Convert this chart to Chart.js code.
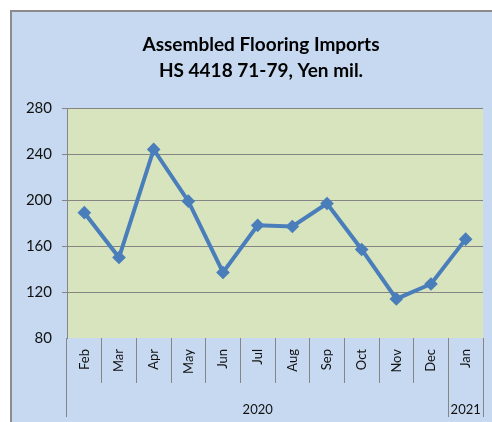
<!DOCTYPE html>
<html>
<head>
<meta charset="utf-8">
<script src="https://cdn.jsdelivr.net/npm/chart.js@4"></script>
<style>
  html, body { margin: 0; padding: 0; background: #fff; overflow: hidden; }
  #box { position: absolute; left: 10px; top: 10px; width: 480px; height: 410px;
         border-left: 2px solid #8c8c8c; border-top: 2px solid #8c8c8c; background: #c6d9f0; }
</style>
</head>
<body>
<div id="box"><canvas id="flooring" width="480" height="410"></canvas></div>
<script>
const months = ['Feb', 'Mar', 'Apr', 'May', 'Jun', 'Jul', 'Aug', 'Sep', 'Oct', 'Nov', 'Dec', 'Jan'];
const years = ['', '', '', '', '', '2020', '', '', '', '', '', '2021'];
const imports = [189, 150, 244, 199, 137, 178, 177, 197, 157, 114, 127, 166];
const titleLines = ['Assembled Flooring Imports', 'HS 4418 71-79, Yen mil.'];

const gray = '#858585';
const none = 'rgba(0,0,0,0)';

Chart.defaults.font.family = 'Lato';
Chart.defaults.color = '#111';

// green plot area
const plotBg = {
    id: 'plotBg',
    beforeDraw(chart) {
        const a = chart.chartArea;
        const ctx = chart.ctx;
        ctx.save();
        ctx.fillStyle = '#d7e4bd';
        ctx.fillRect(a.left, a.top, a.right - a.left, a.bottom - a.top);
        ctx.restore();
    }
};

// the y axis is narrow (title is centred on the whole original chart), let its labels use the left padding
const widenY = {
    id: 'widenY',
    afterLayout(chart) {
        chart.scales.y.left = 0;
    }
};

const ctx = document.getElementById('flooring').getContext('2d');
const chart = new Chart(ctx, {
    type: 'line',
    data: {
        labels: months,
        datasets: [{
            data: imports,
            borderColor: '#4a7ebb',
            backgroundColor: '#4a7ebb',
            borderWidth: 4,
            pointStyle: 'rectRot',
            pointRadius: 4,
            tension: 0,
            xAxisID: 'x'
        }]
    },
    options: {
        responsive: false,
        animation: false,
        layout: { padding: { left: 27, right: 9, top: 0, bottom: 0 } },
        plugins: {
            legend: { display: false },
            tooltip: { enabled: false },
            title: {
                display: true,
                text: titleLines,
                color: '#000',
                font: { size: 19, weight: 'bold', lineHeight: 1.37 },
                padding: { top: 20, bottom: 24 }
            }
        },
        scales: {
            y: {
                min: 80,
                max: 280,
                afterFit(s) { s.width = 28; },
                ticks: { stepSize: 40, padding: 10, font: { size: 15 } },
                grid: {
                    color: c => (c.tick && c.tick.value === 80) ? none : gray,
                    tickLength: 5,
                    lineWidth: 1
                },
                border: { color: gray }
            },
            x: {
                position: 'bottom',
                weight: 0,
                offset: true,
                afterFit(s) { s.height = 45; },
                ticks: { minRotation: 90, maxRotation: 90, autoSkip: false, padding: -34, font: { size: 13 } },
                grid: { offset: true, drawOnChartArea: false, tickLength: 45, color: gray },
                border: { display: false }
            },
            x2: {
                type: 'category',
                labels: years,
                position: 'bottom',
                weight: 1,
                offset: true,
                afterFit(s) { s.height = 39; },
                ticks: { maxRotation: 0, autoSkip: false, padding: -15, font: { size: 13 } },
                grid: {
                    offset: true,
                    drawOnChartArea: false,
                    tickLength: 34,
                    color: c => (c.index === undefined || c.index === 0 || c.index === 11) ? gray : none
                },
                border: { display: false }
            }
        }
    },
    plugins: [plotBg, widenY]
});
</script>
</body>
</html>
